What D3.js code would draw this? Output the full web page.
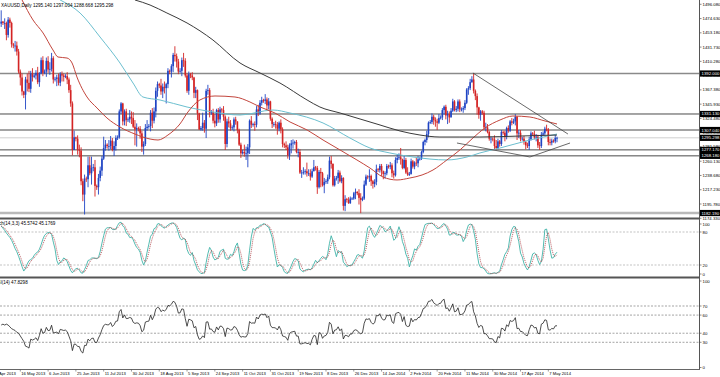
<!DOCTYPE html>
<html>
<head>
<meta charset="utf-8">
<script src="https://cdn.jsdelivr.net/npm/d3@7"></script>
<style>
body { margin: 0; background: #fff; }
svg { display: block; font-family: "Liberation Sans", Arial, sans-serif; }
</style>
</head>
<body>
<svg width="720" height="377"></svg>
<script>
// XAUUSD daily bars, 3 May 2013 .. 13 May 2014 (weekly rows: Sun..Fri)
var firstOpen = 1467.0;
var closes = [1470,
  1468,1468,1450,1473,1468,1436, 1434,1434,1425,1395,1386,1365, 1360,1383,1378,1369,1392,1387, 1389,1393,1379,1392,1412,1393,
  1395,1411,1398,1399,1415,1383, 1384,1386,1378,1391,1389,1387, 1388,1383,1367,1347,1277,1296, 1294,1277,1276,1230,1210,1234,
  1233,1254,1242,1250,1251,1223, 1221,1235,1246,1264,1280,1285, 1283,1283,1291,1277,1283,1295, 1296,1335,1347,1320,1335,1322,
  1323,1327,1325,1312,1308,1310, 1309,1302,1282,1286,1310,1312, 1313,1333,1321,1335,1366,1376, 1374,1365,1372,1370,1376,1396,
  1395,1403,1420,1418,1410,1395, 1396,1412,1411,1389,1366,1391, 1389,1386,1363,1367,1332,1308, 1310,1318,1309,1366,1367,1333,
  1334,1321,1317,1337,1323,1338, 1337,1327,1286,1320,1317,1310, 1311,1323,1320,1307,1285,1272, 1274,1272,1272,1281,1321,1315,
  1316,1315,1338,1332,1348,1352, 1351,1353,1344,1350,1324,1316, 1316,1315,1309,1318,1308,1286, 1284,1281,1269,1284,1287,1288,
  1289,1274,1274,1243,1243,1244, 1245,1242,1242,1237,1245,1251, 1250,1221,1244,1242,1224,1229, 1230,1236,1261,1256,1224,1234,
  1235,1243,1230,1235,1193,1203, 1202,1197,1204,1204,1212,1214, 1212,1205,1202,1204,1225,1237, 1236,1238,1230,1226,1229,1248,
  1247,1253,1245,1241,1242,1253, 1252,1254,1242,1239,1262,1265, 1266,1263,1250,1262,1243,1240, 1241,1260,1252,1258,1257,1263,
  1264,1274,1289,1292,1301,1318, 1319,1327,1322,1320,1318,1325, 1326,1337,1342,1329,1331,1326, 1336,1350,1337,1339,1350,1338,
  1338,1340,1348,1368,1370,1379, 1383,1366,1358,1341,1330,1335, 1333,1311,1311,1304,1294,1294, 1293,1283,1280,1290,1286,1304,
  1303,1297,1310,1306,1320,1318, 1320,1327,1302,1303,1294, 1294,1289,1284,1283,1293,1302, 1301,1296,1297,1284,1283,1300,
  1302,1309,1308,1289,1288,1291, 1290,1295.14,1295.298];
var highs = [1487,
  1471,1475,1470,1477,1476,1470, 1438,1441,1440,1429,1398,1392, 1366,1387,1392,1396,1396,1400, 1392,1397,1402,1394,1416,1418,
  1398,1416,1418,1409,1423,1418, 1387,1390,1392,1394,1395,1392, 1391,1394,1386,1375,1350,1306, 1297,1299,1285,1281,1234,1240,
  1237,1267,1267,1267,1256,1262, 1225,1241,1252,1268,1297,1292, 1287,1292,1298,1295,1290,1299, 1299,1338,1349,1348,1338,1339,
  1326,1337,1335,1334,1322,1317, 1312,1313,1306,1290,1316,1322, 1316,1337,1340,1341,1371,1380, 1378,1384,1377,1380,1378,1400,
  1398,1406,1423,1433,1422,1414, 1400,1416,1423,1415,1392,1395, 1393,1394,1387,1372,1368,1333, 1313,1333,1322,1369,1375,1370,
  1337,1339,1331,1339,1340,1342, 1340,1343,1329,1324,1327,1322, 1314,1326,1327,1320,1309,1288, 1277,1285,1282,1286,1323,1328,
  1318,1320,1343,1345,1352,1357, 1354,1361,1356,1355,1351,1326, 1319,1321,1319,1320,1323,1311, 1288,1290,1285,1287,1292,1293,
  1291,1292,1279,1278,1247,1251, 1248,1258,1248,1248,1249,1262, 1253,1253,1247,1250,1244,1235, 1233,1240,1267,1268,1257,1238,
  1238,1247,1246,1239,1236,1209, 1205,1206,1207,1206,1214,1219, 1215,1218,1212,1207,1231,1240, 1239,1248,1240,1232,1233,1255,
  1250,1256,1256,1246,1245,1256, 1255,1259,1257,1246,1266,1270, 1272,1280,1264,1268,1265,1251, 1244,1264,1262,1260,1265,1268,
  1267,1276,1291,1294,1306,1320, 1322,1332,1330,1326,1324,1331, 1329,1340,1344,1345,1336,1335, 1340,1354,1352,1343,1353,1353,
  1341,1343,1352,1370,1373,1384, 1388,1392,1368,1362,1342,1337, 1337,1336,1318,1316,1306,1297, 1296,1299,1292,1294,1292,1307,
  1306,1306,1312,1314,1322,1325, 1324,1331,1328,1307,1307, 1297,1298,1291,1288,1297,1305, 1304,1306,1301,1300,1289,1304,
  1305,1312,1315,1310,1294,1294, 1293,1300,1297.004];
var lows = [1462,
  1465,1459,1442,1446,1461,1431, 1430,1425,1419,1392,1374,1359, 1355,1338,1365,1364,1363,1380, 1385,1383,1376,1372,1391,1388,
  1391,1387,1393,1390,1395,1377, 1380,1373,1374,1373,1380,1380, 1385,1376,1363,1342,1269,1277, 1290,1270,1266,1224,1200,1180,
  1229,1221,1239,1225,1245,1207, 1217,1210,1230,1238,1262,1276, 1279,1276,1278,1275,1268,1276, 1292,1294,1331,1314,1314,1313,
  1319,1318,1316,1310,1284,1282, 1305,1294,1274,1270,1283,1306, 1309,1305,1310,1317,1326,1357, 1370,1360,1355,1362,1347,1370,
  1391,1386,1394,1410,1401,1391, 1393,1388,1402,1386,1363,1360, 1385,1382,1355,1355,1322,1307, 1306,1306,1303,1295,1360,1326,
  1330,1317,1311,1313,1318,1318, 1333,1321,1277,1281,1311,1306, 1307,1305,1315,1302,1283,1265, 1270,1267,1262,1251,1271,1310,
  1312,1306,1311,1328,1330,1344, 1348,1346,1337,1338,1321,1310, 1312,1309,1300,1305,1302,1281, 1280,1277,1264,1262,1272,1279,
  1285,1272,1266,1241,1235,1240, 1240,1237,1238,1231,1235,1246, 1246,1211,1219,1221,1222,1212, 1226,1226,1233,1249,1222,1222,
  1231,1226,1228,1227,1186,1185, 1198,1196,1196,1202,1202,1203, 1209,1195,1182,1200,1202,1223, 1233,1229,1223,1219,1221,1224,
  1244,1243,1238,1233,1234,1239, 1249,1248,1236,1234,1237,1257, 1262,1255,1248,1248,1241,1238, 1238,1240,1249,1248,1253,1251,
  1261,1262,1272,1284,1288,1296, 1316,1316,1315,1312,1307,1316, 1323,1322,1330,1323,1316,1318, 1330,1334,1335,1334,1335,1334,
  1335,1333,1337,1346,1360,1367, 1378,1362,1352,1330,1324,1321, 1330,1307,1305,1302,1291,1287, 1290,1277,1277,1278,1282,1283,
  1300,1290,1293,1303,1304,1314, 1316,1314,1292,1295,1290, 1291,1285,1278,1280,1277,1291, 1298,1293,1290,1280,1277,1280,
  1298,1299,1305,1284,1284,1284, 1288,1287,1288.668];

// moving averages: [bar index, price]
var maRed = [[12,1502.6],[18.3,1472.5],[24.1,1453],[29.8,1427.4],[32.7,1416.8],[37.9,1415.3],[40.8,1407.8],[43.6,1386.8],
  [49.4,1356.7],[55.2,1340.1],[60.9,1325.1],[68.4,1311.5],[77,1301],[85.7,1293.5],[90.3,1292],[96,1299.5],[102.9,1316.1],
  [107.5,1334.1],[114.4,1352.2],[123.1,1358.2],[134.6,1356.7],[143.2,1349.2],[149,1341.7],[157.6,1332.6],[166.3,1319.1],
  [176.1,1307.1],[185.3,1292],[195.1,1277],[204.8,1262],[212.3,1249.9],[219.8,1236.4],[227.9,1231.9],[235.3,1234.9],
  [242.3,1239.4],[248.6,1246.9],[256.6,1262],[264.1,1277],[271.6,1295],[278.5,1310.1],[287.2,1322.1],[294.6,1328.1],
  [304.4,1326.6],[313.1,1320.6],[320,1316.1]];
var maCyan = [[33.9,1502.6],[45.4,1483],[56.9,1446.9],[68.4,1407.8],[75.9,1377.7],[81.6,1356.7],[91.4,1352.2],[107,1341.6],
  [121.9,1334.1],[137.5,1329.6],[156.5,1337.1],[166.3,1332.6],[185.3,1317.6],[200.8,1295],[212.3,1280],[223.8,1272.5],
  [237.1,1266.5],[256.6,1262],[268.2,1266.5],[275.6,1272.5],[287.2,1280],[304.4,1292],[320,1301]];
var maBlack = [[77,1502.6],[85.7,1495],[95.4,1483],[107,1468],[121.9,1442.4],[137.5,1407.8],[149,1392.8],[160.5,1377.7],
  [176.1,1352.2],[183.5,1341.6],[195.1,1332.6],[206.6,1323.6],[218.1,1314.6],[229.6,1305.6],[241.1,1299.5],[252.6,1296.5],
  [264.1,1296.5],[275.6,1296.5],[298.7,1298],[320,1299.5]];

// trend lines: [[index, price], [index, price]]
var trendLines = [
  [[271.6,1392.8],[326.3,1301]],
  [[262.4,1287.5],[304.4,1266.5]],
  [[304.4,1266.5],[327.5,1287.5]]
];

// horizontal levels
var levels = [1392.0, 1331.13, 1307.04, 1277.17, 1268.18, 1182.19];
var levelLabels = ['1392.000','1331.130','1307.040','1277.170','1268.180','1182.190'];
var lastPrice = 1295.298;
var lastPriceLabel = '1295.298';

var priceTicks = ['1174.330','1195.780','1217.230','1238.680','1260.130','1281.580','1303.030','1324.480',
  '1345.930','1367.380','1388.830','1410.280','1431.730','1453.180','1474.630','1496.080'];
var stochTicks = [100, 80, 20, 0];
var stochLevels = [80, 20];
var rsiTicks = [100, 70, 60, 40, 30, 0];
var rsiLevels = [70, 60, 40, 30];

// first bars of the oscillators (their look-back reaches before the first bar)
var stochLeadK = [91,87,83,78,74,70,65,58,50,44,36,27,17,9];
var rsiLead = [49,50,49,50,49,47,45,44,43,41,40,37,34,31];

var dateLabels = ['28 Apr 2013','16 May 2013','6 Jun 2013','25 Jun 2013','11 Jul 2013','30 Jul 2013','18 Aug 2013',
  '5 Sep 2013','24 Sep 2013','11 Oct 2013','31 Oct 2013','19 Nov 2013','8 Dec 2013','26 Dec 2013','14 Jan 2014',
  '2 Feb 2014','20 Feb 2014','11 Mar 2014','30 Mar 2014','17 Apr 2014','7 May 2014'];
var dateLabelIdx = dateLabels.map(function(d, k) { return -5 + 16 * k; });

var headerText = 'XAUUSD,Daily  1295.140 1297.004 1288.668 1295.298';
var stochText = 'Stoch(14,3,3) 45.5742 45.1769';
var rsiText = 'RSI(14) 47.8298';

// ---------- layout ----------
var svg = d3.select('svg');
var plotRight = 699;
var fontSize = 4.6, axisFont = 4.3, dateFont = 4.15;
var upColor = '#1f44c4', downColor = '#d42424';

var bars = closes.map(function(c, i) {
  var o = i === 0 ? firstOpen : closes[i - 1];
  return {i: i, o: o, c: c, h: Math.max(highs[i], o, c), l: Math.min(lows[i], o, c)};
});

var x = d3.scaleLinear().domain([0, 320]).range([1.2, 557]);
var yMain = d3.scaleLinear().domain([1195.78, 1496.08]).range([204, 4.3]);
var yStoch = d3.scaleLinear().domain([0, 100]).range([276, 221]);
var yRsi = d3.scaleLinear().domain([0, 100]).range([369.5, 278.8]);

var defs = svg.append('defs');
function clip(id, y0, y1) {
  defs.append('clipPath').attr('id', id).append('rect')
    .attr('x', 0).attr('y', y0).attr('width', plotRight).attr('height', y1 - y0);
}
clip('clipMain', 0, 217.5);
clip('clipStoch', 219.5, 276.5);
clip('clipRsi', 278.5, 369.5);

// ---------- main window ----------
var mainG = svg.append('g').attr('clip-path', 'url(#clipMain)');

var levelStroke = ['#8a8a8a', '#4a4a4a', '#4a4a4a', '#4a4a4a', '#4a4a4a', '#b9b9b9'];
var levelWidth = [1.6, 1, 1, 1, 1, 2.6];
mainG.selectAll('.level').data(levels).enter().append('line')
  .attr('class', 'level')
  .attr('x1', 0).attr('x2', plotRight)
  .attr('y1', function(d) { return yMain(d); }).attr('y2', function(d) { return yMain(d); })
  .attr('stroke', function(d, i) { return levelStroke[i]; })
  .attr('stroke-width', function(d, i) { return levelWidth[i]; });

mainG.append('line')
  .attr('x1', 0).attr('x2', plotRight)
  .attr('y1', yMain(lastPrice)).attr('y2', yMain(lastPrice))
  .attr('stroke', '#cfcfcf').attr('stroke-width', 1);

var candles = mainG.selectAll('.candle').data(bars).enter().append('g').attr('class', 'candle');
candles.append('line')
  .attr('x1', function(d) { return x(d.i); }).attr('x2', function(d) { return x(d.i); })
  .attr('y1', function(d) { return yMain(d.h); }).attr('y2', function(d) { return yMain(d.l); })
  .attr('stroke', function(d) { return d.c >= d.o ? upColor : downColor; })
  .attr('stroke-width', 0.9);
candles.append('rect')
  .attr('x', function(d) { return x(d.i) - 0.8; })
  .attr('width', 1.6)
  .attr('y', function(d) { return yMain(Math.max(d.o, d.c)); })
  .attr('height', function(d) { return Math.max(0.8, Math.abs(yMain(d.o) - yMain(d.c))); })
  .attr('fill', function(d) { return d.c >= d.o ? upColor : downColor; });

var maLine = d3.line()
  .x(function(d) { return x(d[0]); })
  .y(function(d) { return yMain(d[1]); })
  .curve(d3.curveMonotoneX);
mainG.append('path').datum(maCyan).attr('d', maLine)
  .attr('fill', 'none').attr('stroke', '#6cbfcf').attr('stroke-width', 1);
mainG.append('path').datum(maRed).attr('d', maLine)
  .attr('fill', 'none').attr('stroke', '#c2453c').attr('stroke-width', 1);
mainG.append('path').datum(maBlack).attr('d', maLine)
  .attr('fill', 'none').attr('stroke', '#3a3a3a').attr('stroke-width', 1);

mainG.selectAll('.trend').data(trendLines).enter().append('line')
  .attr('class', 'trend')
  .attr('x1', function(d) { return x(d[0][0]); }).attr('y1', function(d) { return yMain(d[0][1]); })
  .attr('x2', function(d) { return x(d[1][0]); }).attr('y2', function(d) { return yMain(d[1][1]); })
  .attr('stroke', '#444').attr('stroke-width', 0.8);

svg.append('text').attr('x', 1).attr('y', 6.5)
  .attr('font-size', fontSize).attr('fill', '#000').text(headerText);

// ---------- stochastic ----------
var stochK = [], stochD = [];
var lowN = [], highN = [];
bars.forEach(function(b, i) {
  var s = Math.max(0, i - 13);
  var win = bars.slice(s, i + 1);
  lowN.push(d3.min(win, function(d) { return d.l; }));
  highN.push(d3.max(win, function(d) { return d.h; }));
  if (i < stochLeadK.length) {
    stochK.push(stochLeadK[i]);
  } else {
    var num = 0, den = 0;
    for (var j = i - 2; j <= i; j++) {
      num += bars[j].c - lowN[j];
      den += highN[j] - lowN[j];
    }
    stochK.push(den > 0 ? num / den * 100 : 50);
  }
  stochD.push(d3.mean(stochK.slice(Math.max(0, i - 2), i + 1)));
});

var stochG = svg.append('g').attr('clip-path', 'url(#clipStoch)');
stochG.selectAll('.slevel').data(stochLevels).enter().append('line')
  .attr('x1', 0).attr('x2', plotRight)
  .attr('y1', function(d) { return yStoch(d); }).attr('y2', function(d) { return yStoch(d); })
  .attr('stroke', '#9a9a9a').attr('stroke-width', 0.6).attr('stroke-dasharray', '2,1.5');
var sLine = d3.line()
  .x(function(d, i) { return x(i); })
  .y(function(d) { return yStoch(d); });
stochG.append('path').datum(stochK).attr('d', sLine)
  .attr('fill', 'none').attr('stroke', '#3fb3a8').attr('stroke-width', 0.9);
stochG.append('path').datum(stochD).attr('d', sLine)
  .attr('fill', 'none').attr('stroke', '#a8343a').attr('stroke-width', 0.8).attr('stroke-dasharray', '1,1');
svg.append('text').attr('x', -8).attr('y', 225)
  .attr('font-size', fontSize).attr('fill', '#000').text(stochText);

// ---------- RSI ----------
var rsi = [];
var avgG = 0, avgL = 0, period = 14;
bars.forEach(function(b, i) {
  if (i === 0) { rsi.push(rsiLead[0]); return; }
  var ch = b.c - bars[i - 1].c;
  var g = Math.max(ch, 0), l = Math.max(-ch, 0);
  if (i <= period) {
    avgG = (avgG * (i - 1) + g) / i;
    avgL = (avgL * (i - 1) + l) / i;
  } else {
    avgG = (avgG * (period - 1) + g) / period;
    avgL = (avgL * (period - 1) + l) / period;
  }
  if (i < rsiLead.length) rsi.push(rsiLead[i]);
  else rsi.push(avgL === 0 ? 100 : 100 - 100 / (1 + avgG / avgL));
});

var rsiG = svg.append('g').attr('clip-path', 'url(#clipRsi)');
rsiG.selectAll('.rlevel').data(rsiLevels).enter().append('line')
  .attr('x1', 0).attr('x2', plotRight)
  .attr('y1', function(d) { return yRsi(d); }).attr('y2', function(d) { return yRsi(d); })
  .attr('stroke', '#666').attr('stroke-width', 0.6).attr('stroke-dasharray', '2,1.5');
var rLine = d3.line()
  .x(function(d, i) { return x(i); })
  .y(function(d) { return yRsi(d); });
rsiG.append('path').datum(rsi).attr('d', rLine)
  .attr('fill', 'none').attr('stroke', '#222').attr('stroke-width', 0.8);
svg.append('text').attr('x', -6).attr('y', 284)
  .attr('font-size', fontSize).attr('fill', '#000').text(rsiText);

// ---------- frame ----------
svg.append('line').attr('x1', plotRight + 0.5).attr('x2', plotRight + 0.5).attr('y1', 0).attr('y2', 369.5)
  .attr('stroke', '#555').attr('stroke-width', 1);
[218.5, 277.5].forEach(function(yy) {
  svg.append('line').attr('x1', 0).attr('x2', plotRight + 1).attr('y1', yy).attr('y2', yy)
    .attr('stroke', '#555').attr('stroke-width', 2);
});
svg.append('line').attr('x1', 0).attr('x2', plotRight + 1).attr('y1', 369.5).attr('y2', 369.5)
  .attr('stroke', '#666').attr('stroke-width', 1);

// ---------- right axis labels ----------
function axisLabel(yy, txt) {
  svg.append('line').attr('x1', plotRight).attr('x2', plotRight + 2.5).attr('y1', yy).attr('y2', yy)
    .attr('stroke', '#555').attr('stroke-width', 0.7);
  svg.append('text').attr('x', plotRight + 3.5).attr('y', yy + 1.5)
    .attr('font-size', axisFont).attr('fill', '#000').text(txt);
}
priceTicks.forEach(function(t) { axisLabel(yMain(+t), t); });
stochTicks.forEach(function(v) { axisLabel(Math.max(224, Math.min(274, yStoch(v))), String(v)); });
rsiTicks.forEach(function(v) { axisLabel(Math.max(281, Math.min(367.5, yRsi(v))), String(v)); });

function boxLabel(yy, txt) {
  svg.append('rect').attr('x', plotRight + 1).attr('y', yy - 3.1).attr('width', 20).attr('height', 6.2)
    .attr('fill', '#000');
  svg.append('text').attr('x', plotRight + 2.5).attr('y', yy + 1.5)
    .attr('font-size', axisFont).attr('fill', '#fff').text(txt);
}
levels.forEach(function(v, i) { boxLabel(yMain(v), levelLabels[i]); });
boxLabel(yMain(lastPrice), lastPriceLabel);

// ---------- time axis ----------
svg.selectAll('.dlab').data(dateLabels).enter().append('text')
  .attr('x', function(d, i) { return x(dateLabelIdx[i]) + 1; })
  .attr('y', 374.5)
  .attr('font-size', dateFont).attr('fill', '#000')
  .text(function(d) { return d; });
svg.selectAll('.dtick').data(dateLabelIdx).enter().append('line')
  .attr('x1', function(d) { return x(d); }).attr('x2', function(d) { return x(d); })
  .attr('y1', 369.5).attr('y2', 371.5)
  .attr('stroke', '#555').attr('stroke-width', 0.6);
</script>
</body>
</html>
